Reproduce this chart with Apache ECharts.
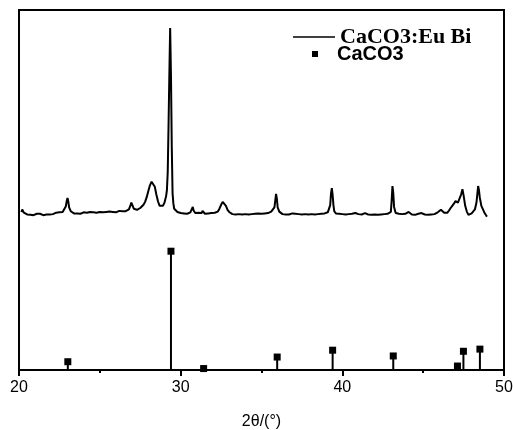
<!DOCTYPE html>
<html>
<head>
<meta charset="utf-8">
<script src="https://cdn.jsdelivr.net/npm/echarts@6/dist/echarts.min.js"></script>
<style>
  html, body { margin: 0; padding: 0; background: #fff; }
  #chart { width: 513px; height: 430px; }
</style>
</head>
<body>
<div id="chart"></div>
<script>
// x axis range (2theta, degrees)
const xMin = 20
const xMax = 50
const xStep = 10

// measured pattern of the doped sample, [2theta, intensity]
const sampleCurve = [
  [20.15, 43.9], [20.2, 44.6], [20.25, 44.3], [20.3, 43.7], [20.4, 43.4], [20.5, 43.2], [20.6, 43.5],
  [20.7, 43.1], [20.8, 43.3], [20.9, 43.0], [21.0, 43.3], [21.1, 43.4], [21.2, 43.1], [21.3, 43.4],
  [21.4, 43.2], [21.5, 43.0], [21.6, 43.4], [21.7, 43.2], [21.8, 43.5], [21.9, 43.2], [22.0, 43.6],
  [22.1, 43.3], [22.2, 43.5], [22.3, 43.7], [22.4, 43.4], [22.5, 43.8], [22.6, 43.6], [22.7, 43.9],
  [22.8, 44.3], [22.9, 45.5], [22.95, 46.9], [23.0, 47.8], [23.05, 46.8], [23.1, 45.2], [23.2, 44.1],
  [23.3, 43.7], [23.4, 43.5], [23.5, 43.8], [23.6, 43.5], [23.7, 43.7], [23.8, 43.4], [23.9, 43.6],
  [24.0, 43.8], [24.1, 43.5], [24.2, 43.7], [24.3, 43.5], [24.4, 43.9], [24.5, 43.6], [24.6, 43.8],
  [24.7, 44.0], [24.8, 43.7], [24.9, 43.6], [25.0, 43.9], [25.1, 43.7], [25.2, 43.8], [25.3, 43.6],
  [25.4, 43.9], [25.5, 43.7], [25.6, 44.0], [25.7, 43.8], [25.8, 43.9], [25.9, 44.1], [26.0, 43.8],
  [26.1, 44.0], [26.2, 44.2], [26.3, 43.9], [26.4, 44.1], [26.5, 44.6], [26.6, 44.1], [26.7, 44.0],
  [26.8, 44.6], [26.9, 45.8], [26.95, 46.5], [27.0, 46.1], [27.1, 44.8], [27.2, 44.3], [27.3, 44.5],
  [27.4, 44.7], [27.5, 45.0], [27.6, 45.4], [27.7, 45.9], [27.8, 46.7], [27.9, 48.0], [28.0, 49.7],
  [28.1, 51.3], [28.2, 52.3], [28.25, 52.5], [28.3, 52.2], [28.4, 50.9], [28.5, 48.7], [28.6, 46.8],
  [28.7, 45.6], [28.8, 45.2], [28.9, 45.6], [29.0, 46.5], [29.1, 48.3], [29.15, 50.0], [29.2, 55.0],
  [29.25, 68.0], [29.3, 82.0], [29.35, 95.0], [29.4, 82.0], [29.45, 62.0], [29.5, 49.0], [29.55, 46.2],
  [29.6, 44.8], [29.7, 44.3], [29.8, 43.9], [29.9, 44.0], [30.0, 43.6], [30.1, 43.8], [30.2, 43.5],
  [30.3, 43.7], [30.4, 43.4], [30.5, 43.6], [30.6, 43.8], [30.7, 44.1], [30.75, 45.3], [30.8, 44.3],
  [30.9, 43.6], [31.0, 43.4], [31.1, 43.7], [31.2, 43.5], [31.3, 43.6], [31.35, 44.2], [31.4, 43.8],
  [31.5, 43.4], [31.6, 43.2], [31.7, 43.5], [31.8, 43.3], [31.9, 43.6], [32.0, 43.5], [32.1, 43.7],
  [32.2, 43.6], [32.3, 44.0], [32.4, 44.8], [32.5, 45.9], [32.6, 46.7], [32.65, 46.9], [32.7, 46.6],
  [32.8, 45.6], [32.9, 44.5], [33.0, 43.9], [33.1, 43.5], [33.2, 43.3], [33.3, 43.5], [33.4, 43.2],
  [33.5, 43.1], [33.6, 43.3], [33.7, 43.0], [33.8, 43.2], [33.9, 43.1], [34.0, 43.3], [34.1, 43.0],
  [34.2, 43.2], [34.3, 43.1], [34.4, 43.3], [34.5, 43.2], [34.6, 43.4], [34.7, 43.9], [34.8, 43.5],
  [34.9, 43.3], [35.0, 43.4], [35.1, 43.2], [35.2, 43.5], [35.3, 43.4], [35.4, 43.6], [35.5, 43.8],
  [35.6, 44.0], [35.7, 44.3], [35.8, 45.2], [35.85, 47.0], [35.9, 48.9], [35.95, 47.6], [36.0, 45.2],
  [36.1, 44.0], [36.2, 43.6], [36.3, 43.3], [36.4, 43.5], [36.5, 43.2], [36.6, 43.4], [36.7, 43.2],
  [36.8, 43.3], [36.9, 43.5], [37.0, 43.8], [37.1, 43.4], [37.2, 43.2], [37.3, 43.3], [37.4, 43.0],
  [37.5, 43.2], [37.6, 43.1], [37.7, 43.3], [37.8, 43.0], [37.9, 43.2], [38.0, 43.1], [38.1, 43.3],
  [38.2, 43.1], [38.3, 43.2], [38.4, 43.0], [38.5, 43.3], [38.6, 43.2], [38.7, 43.4], [38.8, 43.3],
  [38.9, 43.5], [39.0, 43.6], [39.1, 43.8], [39.2, 44.2], [39.25, 45.8], [39.3, 49.0], [39.35, 50.5],
  [39.4, 48.6], [39.45, 45.8], [39.5, 44.1], [39.6, 43.5], [39.7, 43.2], [39.8, 43.4], [39.9, 43.1],
  [40.0, 43.3], [40.1, 43.0], [40.2, 43.2], [40.3, 43.1], [40.4, 43.3], [40.5, 43.2], [40.6, 43.4],
  [40.7, 43.3], [40.8, 43.6], [40.9, 43.4], [41.0, 43.3], [41.1, 43.5], [41.2, 43.2], [41.3, 43.4],
  [41.4, 43.6], [41.5, 43.3], [41.6, 43.2], [41.7, 43.4], [41.8, 43.1], [41.9, 43.3], [42.0, 43.2],
  [42.1, 43.4], [42.2, 43.1], [42.3, 43.3], [42.4, 43.2], [42.5, 43.4], [42.6, 43.3], [42.7, 43.5],
  [42.8, 43.4], [42.9, 43.6], [43.0, 43.9], [43.05, 47.0], [43.1, 51.1], [43.15, 49.2], [43.2, 45.3],
  [43.3, 43.6], [43.4, 43.2], [43.5, 43.4], [43.6, 43.1], [43.7, 43.3], [43.8, 43.2], [43.9, 43.4],
  [44.0, 43.5], [44.1, 43.9], [44.2, 43.4], [44.3, 43.2], [44.4, 43.3], [44.5, 43.1], [44.6, 43.3],
  [44.7, 43.4], [44.8, 43.7], [44.9, 43.6], [45.0, 43.3], [45.1, 43.2], [45.2, 43.4], [45.3, 43.1],
  [45.4, 43.3], [45.5, 43.2], [45.6, 43.4], [45.7, 43.3], [45.8, 43.5], [45.9, 43.8], [46.0, 44.2],
  [46.1, 44.5], [46.2, 44.2], [46.3, 43.7], [46.4, 43.4], [46.5, 43.7], [46.6, 44.3], [46.7, 45.0],
  [46.8, 45.6], [46.9, 46.2], [47.0, 46.9], [47.06, 47.4], [47.15, 46.5], [47.25, 47.0], [47.35, 48.8],
  [47.43, 50.2], [47.5, 48.5], [47.6, 45.6], [47.7, 44.0], [47.8, 43.1], [47.9, 43.3], [48.0, 43.5],
  [48.1, 43.9], [48.2, 44.6], [48.3, 46.6], [48.4, 51.1], [48.45, 50.0], [48.5, 48.0], [48.6, 45.6],
  [48.7, 44.6], [48.8, 43.6], [48.9, 42.9], [48.95, 42.6]
]

// reference CaCO3 reflections
const refAngles = [23.02, 29.40, 31.42, 35.97, 39.40, 43.15, 47.12, 47.49, 48.51]
const refHeights = [2.3, 33.0, 0.4, 3.6, 5.5, 3.9, 1.1, 5.2, 5.8]

const refPoints = refAngles.map((a, i) => [a, refHeights[i]])

const chart = echarts.init(document.getElementById('chart'), null, { renderer: 'canvas' })

const black = '#000'
const sans = 'Liberation Sans'

chart.setOption({
  animation: false,
  backgroundColor: '#fff',
  grid: {
    left: 19, right: 9, top: 10, bottom: 60,
    show: true, borderColor: black, borderWidth: 2,
    outerBoundsMode: 'none'
  },
  legend: [
    {
      data: [{ name: 'CaCO3:Eu Bi', icon: 'path://M0,0h42v1.5h-42z' }],
      left: 288, top: 21,
      itemWidth: 42, itemHeight: 1.5,
      selectedMode: false,
      textStyle: { fontFamily: 'Liberation Serif', fontWeight: 'bold', fontSize: 22, color: black }
    },
    {
      data: [{ name: 'CaCO3', icon: 'path://M0,0h6v6h-6z M19.99,5.99h0.01v0.01h-0.01z' }],
      left: 307, top: 39,
      itemWidth: 20, itemHeight: 6,
      selectedMode: false,
      textStyle: { fontFamily: sans, fontWeight: 'bold', fontSize: 20, color: black }
    }
  ],
  xAxis: {
    type: 'value',
    min: xMin, max: xMax, interval: xStep,
    name: '2θ/(°)',
    nameLocation: 'middle',
    nameGap: 44,
    nameTextStyle: { fontFamily: sans, fontSize: 16, color: black },
    axisLine: { lineStyle: { color: black, width: 2 } },
    axisTick: { length: 6, lineStyle: { color: black, width: 2 } },
    minorTick: { show: true, splitNumber: 2, length: 3, lineStyle: { color: black, width: 2 } },
    splitLine: { show: false },
    axisLabel: { fontFamily: sans, fontSize: 16, color: black, margin: 10 }
  },
  yAxis: {
    type: 'value',
    min: 0, max: 100,
    axisLine: { show: false },
    axisTick: { show: false },
    axisLabel: { show: false },
    splitLine: { show: false }
  },
  series: [
    {
      name: 'CaCO3:Eu Bi',
      type: 'line',
      data: sampleCurve,
      symbol: 'none',
      color: black,
      lineStyle: { color: black, width: 2 }
    },
    {
      name: 'CaCO3',
      type: 'bar',
      data: refPoints,
      barWidth: 2,
      color: black,
      itemStyle: { color: black },
      silent: true
    },
    {
      name: 'CaCO3',
      type: 'scatter',
      data: refPoints,
      symbol: 'rect',
      symbolSize: 7,
      color: black,
      itemStyle: { color: black, opacity: 1 },
      silent: true
    }
  ]
})
</script>
</body>
</html>
